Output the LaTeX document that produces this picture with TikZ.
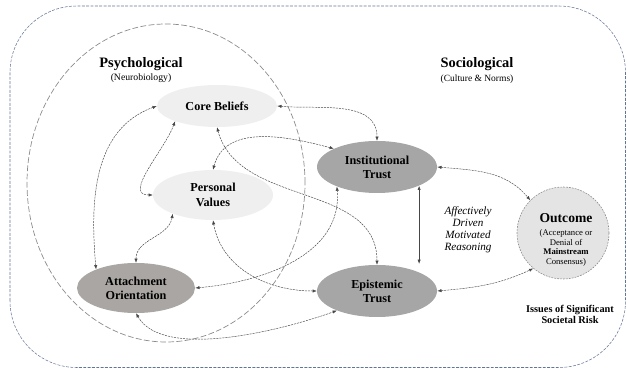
\documentclass[tikz,border=0pt]{standalone}
\usepackage{fontspec}
\setmainfont{Liberation Serif}
\usetikzlibrary{shapes.geometric,arrows.meta}

\tikzset{
  lightnode/.style={ellipse, fill=nodelight, inner sep=0pt, minimum width=3.6cm, minimum height=1.3cm, align=center, font=\fontsize{10.4}{12}\selectfont\bfseries},
  darknode/.style={lightnode, fill=nodedark, minimum height=1.56cm},
  link/.style={<->, draw=linkgray, line width=0.4pt, dash pattern=on 1.8pt off 0.8pt},
  >={Latex[length=3.6pt,width=2.8pt]}
}

\begin{document}
\begin{tikzpicture}[x=0.03cm,y=0.03cm]

\definecolor{nodelight}{RGB}{239,239,239}
\definecolor{nodedark}{RGB}{166,166,166}
\definecolor{nodewarm}{RGB}{170,166,163}
\definecolor{outfill}{RGB}{228,228,228}
\definecolor{linkgray}{RGB}{70,70,70}
\definecolor{frameblue}{RGB}{100,116,150}
\definecolor{ringgray}{RGB}{140,140,140}

    \useasboundingbox (0,0) rectangle (627,369);

    %Rahmen
    \draw [frameblue, line width=0.45pt, dash pattern=on 2.5pt off 1.2pt, rounded corners=2cm] (10,1.5) rectangle (625.5,363);
    \draw [ringgray, line width=0.6pt, dash pattern=on 5pt off 2pt] (166,186) ellipse [x radius=139, y radius=159];

    %Ellipsen
    \node [lightnode, minimum height=1.26cm] (cb) at (217,263) {Core Beliefs};
    \node [lightnode, minimum height=1.5cm, font=\fontsize{10.4}{13}\selectfont\bfseries] (pv) at (213,174) {Personal\\Values};
    \node [darknode, fill=nodewarm, minimum width=3.54cm, minimum height=1.5cm] (ao) at (136,81) {Attachment\\Orientation};
    \node [darknode] (it) at (377,202) {Institutional\\Trust};
    \node [darknode] (et) at (377,78) {Epistemic\\Trust};
    \node [circle, fill=outfill, draw=ringgray, line width=0.5pt, dash pattern=on 1.5pt off 1pt, minimum size=2.76cm, inner sep=0pt] (oc) at (563,136) {};
    \node [align=center, font=\fontsize{7.4}{8.5}\selectfont] (octext) at (566,129) {{\fontsize{11.6}{13}\selectfont\bfseries Outcome}\\[2.5pt](Acceptance or\\Denial of\\\textbf{Mainstream}\\Consensus)};

    %Labels
    \node [font=\fontsize{12.3}{14}\selectfont\bfseries] (psych) at (141,305) {Psychological};
    \node [font=\fontsize{8.3}{10}\selectfont] (neuro) at (141,291) {(Neurobiology)};
    \node [font=\fontsize{12.3}{14}\selectfont\bfseries] (socio) at (477,305) {Sociological};
    \node [font=\fontsize{8.1}{10}\selectfont] (norms) at (477,290) {(Culture \& Norms)};
    \node [align=center, font=\fontsize{9.5}{10.3}\selectfont\itshape] (reason) at (468,139) {Affectively\\Driven\\Motivated\\Reasoning};
    \node [align=center, font=\fontsize{8.8}{9.5}\selectfont\bfseries] (risk) at (570,55) {Issues of Significant\\Societal Risk};

    %Pfeile
    \draw [link] (cb.east) to[out=-5,in=90] (it.north);
    \draw [link] (cb.west) to[out=200,in=95] (ao.155);
    \draw [link] (cb.200) to[out=250,in=180] (pv.west);
    \draw [link] (pv.205) to[out=260,in=90] (ao.north);
    \draw [link] (cb.south) to[out=-75,in=90] (et.north);
    \draw [link] (pv.north) to[out=75,in=165] (it.157);
    \draw [link] (pv.south) to[out=-80,in=180] (et.west);
    \draw [link] (ao.east) to[out=5,in=-85] (it.206);
    \draw [link] (ao.south) to[out=-60,in=200,looseness=0.7] (et.206);
    \draw [link] (it.east) to[out=-5,in=130] (oc.135);
    \draw [link] (et.east) to[out=5,in=205] (oc.230);
    \draw [<->, linkgray, line width=0.5pt, shorten >=0.25cm] (it.-24) -- (et.24);

\end{tikzpicture}
\end{document}
